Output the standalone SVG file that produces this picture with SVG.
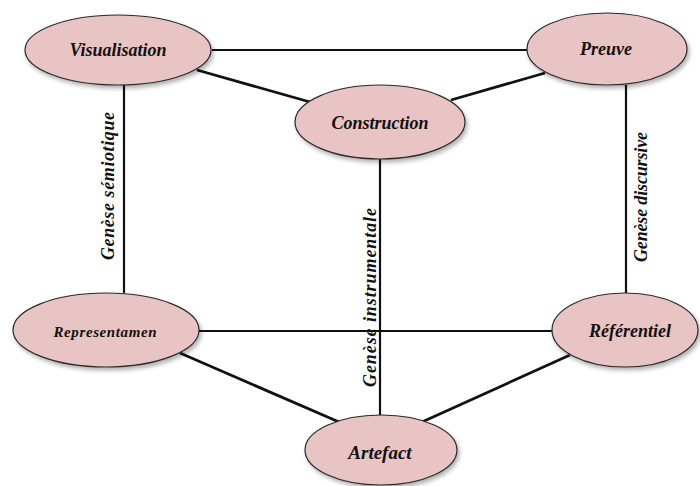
<svg xmlns="http://www.w3.org/2000/svg" width="700" height="486" viewBox="0 0 700 486">
<defs>
<filter id="sh" x="-20%" y="-20%" width="140%" height="150%">
<feDropShadow dx="2" dy="3" stdDeviation="2" flood-color="#000" flood-opacity="0.3"/>
</filter>
<style>
.node ellipse{fill:#E9C4C4;stroke:#2a2a2a;stroke-width:1.2;filter:url(#sh)}
.node text{font-weight:bold;font-style:italic;font-size:18px;fill:#111;text-anchor:middle}
.lbl{font-weight:bold;font-style:italic;font-size:18px;fill:#111}
#connectors line{stroke:#111;stroke-width:2.2;fill:none}
#connectors line.d{stroke-width:2.8}
</style>
</defs>
<rect width="700" height="486" fill="#fff"/>
<g id="connectors">
<line x1="212" y1="50" x2="527" y2="50"/>
<line class="d" x1="197" y1="70" x2="310" y2="102"/>
<line class="d" x1="545" y1="73" x2="451" y2="100"/>
<line x1="124" y1="85" x2="124" y2="293"/>
<line x1="626" y1="85" x2="626" y2="293"/>
<line x1="380" y1="159" x2="380" y2="415"/>
<line x1="198" y1="331" x2="552" y2="331"/>
<line class="d" x1="180" y1="353" x2="339" y2="422"/>
<line class="d" x1="570" y1="355" x2="422" y2="422"/>
</g>
<g id="labels" font-family="'Liberation Serif', 'DejaVu Serif', serif">
<text class="lbl" transform="translate(114,260) rotate(-90)" textLength="148" lengthAdjust="spacing">Genèse sémiotique</text>
<text class="lbl" transform="translate(376,387) rotate(-90)" textLength="179" lengthAdjust="spacing">Genèse instrumentale</text>
<text class="lbl" transform="translate(647,262) rotate(-90)" textLength="130" lengthAdjust="spacing">Genèse discursive</text>
</g>
<g id="visualisation" class="node" font-family="'Liberation Serif', 'DejaVu Serif', serif">
<ellipse cx="118" cy="50" rx="93" ry="35"/>
<text x="118" y="56">Visualisation</text>
</g>
<g id="preuve" class="node" font-family="'Liberation Serif', 'DejaVu Serif', serif">
<ellipse cx="607" cy="49" rx="80" ry="36"/>
<text x="606" y="55">Preuve</text>
</g>
<g id="construction" class="node" font-family="'Liberation Serif', 'DejaVu Serif', serif">
<ellipse cx="380" cy="122" rx="85" ry="37"/>
<text x="380" y="129">Construction</text>
</g>
<g id="representamen" class="node" font-family="'Liberation Serif', 'DejaVu Serif', serif">
<ellipse cx="106" cy="330" rx="93" ry="37"/>
<text x="105" y="337" style="font-size:15px" textLength="103" lengthAdjust="spacing">Representamen</text>
</g>
<g id="referentiel" class="node" font-family="'Liberation Serif', 'DejaVu Serif', serif">
<ellipse cx="625" cy="330" rx="73" ry="37"/>
<text x="630" y="337">Référentiel</text>
</g>
<g id="artefact" class="node" font-family="'Liberation Serif', 'DejaVu Serif', serif">
<ellipse cx="381" cy="450" rx="76" ry="35"/>
<text x="380" y="459" style="font-size:19px">Artefact</text>
</g>
</svg>
